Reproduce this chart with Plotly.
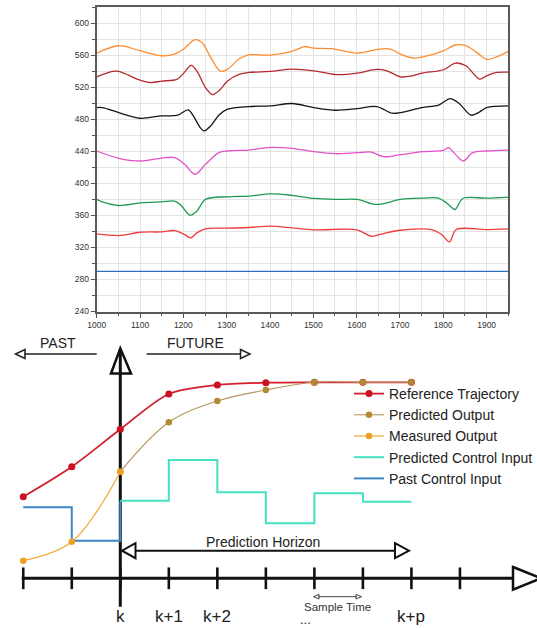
import plotly.graph_objects as go

FONT = "Liberation Sans, Arial, Helvetica, sans-serif"

# ---------------- Top chart data (time series) ----------------
x_orange = [1000, 1051, 1100, 1150, 1180, 1201, 1227, 1243, 1263, 1286, 1302, 1330, 1351, 1401, 1451,
            1480, 1501, 1543, 1601, 1652, 1678, 1701, 1731, 1773, 1801, 1828, 1852, 1880, 1900, 1923, 1950]
y_orange = [562.8, 572, 565.8, 559.5, 561.6, 568, 579.5, 576, 557.4, 540, 542.7, 556, 560.7, 560.3, 565,
            571, 569, 568.3, 562.8, 567.8, 567.8, 561.6, 556.6, 560.7, 565.8, 572.9, 572, 562.4, 555, 558, 565]

x_darkred = [1000, 1037, 1051, 1100, 1124, 1150, 1185, 1199, 1218, 1231, 1251, 1267, 1282, 1302, 1330, 1351,
             1401, 1451, 1501, 1551, 1601, 1646, 1670, 1701, 1725, 1751, 1801, 1828, 1852, 1884, 1900, 1923, 1950]
y_darkred = [533.2, 539.9, 540, 529, 526, 527.8, 530, 536.5, 547.4, 540.6, 519.8, 511, 515.6, 528, 536.5, 538.6,
             540, 542.8, 540.7, 536, 537.8, 542.4, 540.7, 533.2, 534, 537.8, 542, 550.3, 547, 530.3, 534.4, 538.6, 539]

x_black = [1000, 1013, 1051, 1100, 1150, 1187, 1211, 1223, 1239, 1248, 1263, 1282, 1302, 1351, 1401, 1451,
           1501, 1551, 1601, 1646, 1682, 1701, 1751, 1789, 1816, 1836, 1864, 1884, 1900, 1950]
y_black = [494.8, 494.8, 488.5, 481.4, 484.3, 485.2, 491.9, 484.3, 469.7, 465.6, 471.8, 485.2, 492.7, 496, 496.9, 499.8,
           494.8, 491.4, 493.5, 496, 487.7, 488.5, 494.8, 497.7, 506, 500.2, 485.2, 489.3, 494.8, 496.9]

x_magenta = [1000, 1051, 1100, 1150, 1180, 1203, 1227, 1251, 1282, 1302, 1351, 1401, 1451, 1501, 1551, 1601,
             1634, 1662, 1701, 1751, 1801, 1812, 1828, 1846, 1868, 1900, 1950]
y_magenta = [440.5, 431.3, 428, 431.7, 432.2, 423.8, 411.3, 423.8, 438.4, 440.5, 441.7, 445, 443.8, 439.6, 437.1, 438.4,
             439.2, 433.4, 435.9, 439.6, 441.3, 444.6, 436.3, 428, 438.4, 440.5, 441.7]

x_green = [1000, 1013, 1051, 1100, 1150, 1180, 1195, 1215, 1231, 1251, 1302, 1351, 1401, 1451, 1501, 1551,
           1601, 1646, 1701, 1751, 1789, 1809, 1827, 1845, 1900, 1950]
y_green = [380, 377, 372.4, 375.7, 377, 377.9, 372.4, 360.3, 365.3, 380, 383.3, 384.1, 387, 385, 381.2, 380,
           380, 373.7, 380, 381.6, 381.6, 375, 367.4, 381.2, 381.6, 382.9]

x_red = [1000, 1051, 1100, 1150, 1180, 1203, 1217, 1231, 1251, 1302, 1351, 1401, 1451, 1501, 1601, 1634,
         1662, 1701, 1773, 1796, 1814, 1830, 1900, 1950]
y_red = [336.9, 334.9, 339, 339.5, 341.1, 336.1, 331.9, 338.2, 343.2, 344.1, 344.9, 346.6, 344.5, 342, 342, 334,
         337.4, 341.5, 342.4, 336.1, 327, 342.4, 342.4, 343.2]

x_blue = [1000, 1950]
y_blue = [290, 290]

top_colors = ["#ff8c2e", "#b5282e", "#151515", "#e352c8", "#1d9a52", "#f03c3c", "#2f6fc0"]

# ---------------- Bottom diagram data (MPC scheme) ----------------
steps = [-2, -1, 0, 1, 2, 3, 4, 5, 6, 7]            # sample instants on time axis
step_label_t = [0, 1, 2, 6]
step_labels = ["k", "k+1", "k+2", "k+p"]

ref_t = [-2, -1, 0, 1, 2, 3, 4, 5, 6]
ref_v = [81.6, 111.6, 149, 184.3, 193.3, 195.6, 196, 196, 196]

pred_t = [0, 1, 2, 3, 4, 5, 6]
pred_v = [106.6, 156, 177.3, 188.3, 196, 196, 196]

meas_t = [-2, -1, 0]
meas_v = [17.6, 36.6, 106.6]

pred_u_t = [0, 1, 2, 3, 4, 5, 6]
pred_u_v = [77.6, 118.3, 86, 55, 85, 76.6, 76.6]

past_u_t = [-2, -1, 0, 0]
past_u_v = [71, 37.6, 37.6, 77.6]

legend_names = ["Reference Trajectory", "Predicted Output", "Measured Output",
                "Predicted Control Input", "Past Control Input"]


# pixel -> diagram coordinate helpers (layout only)
def T(px):
    return (px - 120.3) / 48.52


def V(py):
    return 578.3 - py


fig = go.Figure()

# top chart traces
for xs, ys, c in zip([x_orange, x_darkred, x_black, x_magenta, x_green, x_red, x_blue],
                     [y_orange, y_darkred, y_black, y_magenta, y_green, y_red, y_blue], top_colors):
    fig.add_trace(go.Scatter(x=xs, y=ys, mode="lines", xaxis="x", yaxis="y",
                             line=dict(color=c, width=1.3, shape="spline", smoothing=0.9),
                             showlegend=False, hoverinfo="skip"))

# bottom diagram traces
fig.add_trace(go.Scatter(x=steps, y=[0] * len(steps), mode="markers", xaxis="x2", yaxis="y2",
                         marker=dict(symbol="line-ns", size=15.5, line=dict(width=2.6, color="#111")),
                         showlegend=False, hoverinfo="skip", cliponaxis=False))

fig.add_trace(go.Scatter(x=past_u_t, y=past_u_v, mode="lines", xaxis="x2", yaxis="y2",
                         name=legend_names[4], legendrank=5,
                         line=dict(color="#3f86c8", width=2, shape="hv")))
fig.add_trace(go.Scatter(x=pred_u_t, y=pred_u_v, mode="lines", xaxis="x2", yaxis="y2",
                         name=legend_names[3], legendrank=4,
                         line=dict(color="#44e2c2", width=2, shape="hv")))
fig.add_trace(go.Scatter(x=ref_t, y=ref_v, mode="lines+markers", xaxis="x2", yaxis="y2",
                         name=legend_names[0], legendrank=1,
                         line=dict(color="#d21f2c", width=1.8, shape="spline", smoothing=0.8),
                         marker=dict(color="#cc1020", size=7)))
fig.add_trace(go.Scatter(x=pred_t, y=pred_v, mode="lines+markers", xaxis="x2", yaxis="y2",
                         name=legend_names[1], legendrank=2,
                         line=dict(color="#b5955a", width=1.1, shape="spline", smoothing=1.0),
                         marker=dict(color="#b38a34", size=6.5)))
fig.add_trace(go.Scatter(x=meas_t, y=meas_v, mode="lines+markers", xaxis="x2", yaxis="y2",
                         name=legend_names[2], legendrank=3,
                         line=dict(color="#f2a832", width=1.2, shape="spline", smoothing=1.0),
                         marker=dict(color="#f0a020", size=6.5)))

# ---------------- shapes for the diagram ----------------
shapes = []
BLK = "#111"


def line(x0, y0, x1, y1, w, c=BLK):
    shapes.append(dict(type="line", xref="x2", yref="y2", x0=x0, y0=y0, x1=x1, y1=y1,
                       line=dict(color=c, width=w), layer="below"))


def tri(pts, w, c=BLK):
    p = "M {},{} L {},{} L {},{} Z".format(*[v for pt in pts for v in pt])
    shapes.append(dict(type="path", xref="x2", yref="y2", path=p,
                       line=dict(color=c, width=w), fillcolor="rgba(0,0,0,0)", layer="below"))


# time axis with open arrowhead
line(T(21.7), 0, T(513), 0, 3)
tri([(T(513), V(567)), (T(541), 0), (T(513), V(589.6))], 2.5)
# vertical "now" axis at k
line(0, V(606.7), 0, V(349), 3)
tri([(T(111), V(373.5)), (0, V(348.3)), (T(131), V(373.5))], 2.5)
# PAST / FUTURE arrows
line(T(96.7), V(354), T(24.5), V(354), 1.5, "#222")
tri([(T(25), V(349.5)), (T(15.5), V(354)), (T(25), V(358.5))], 1.5, "#222")
line(T(146.7), V(354), T(241), V(354), 1.5, "#222")
tri([(T(240.5), V(349.5)), (T(250), V(354)), (T(240.5), V(358.5))], 1.5, "#222")
# prediction horizon double arrow
line(T(135), V(550.7), T(395), V(550.7), 2, "#111")
tri([(T(135.5), V(543.2)), (T(122), V(550.7)), (T(135.5), V(558.2))], 2, "#111")
tri([(T(395), V(543.2)), (T(409), V(550.7)), (T(395), V(558.2))], 2, "#111")
# sample time small arrow
line(T(318), V(596.7), T(357), V(596.7), 1, "#444")
tri([(T(319), V(594.4)), (T(313.5), V(596.7)), (T(319), V(599))], 1, "#444")
tri([(T(356), V(594.4)), (T(361.5), V(596.7)), (T(356), V(599))], 1, "#444")

# ---------------- annotations ----------------
ann = []


def text(x, y, s, size, color="#222"):
    ann.append(dict(xref="x2", yref="y2", x=x, y=y, text=s, showarrow=False,
                    font=dict(family=FONT, size=size, color=color), xanchor="center", yanchor="middle"))


text(T(58.3), V(343.3), "PAST", 14)
text(T(195), V(343.3), "FUTURE", 14)
text(T(263.3), V(541.7), "Prediction Horizon", 14)
text(T(337.7), V(606.7), "Sample Time", 11.5, "#333")
for t, s in zip(step_label_t, step_labels):
    text(t, V(616.5), s, 17)
text(T(305), V(619), "...", 13)

axis_common = dict(showline=True, linecolor="#5a5a5a", linewidth=2, mirror=True,
                   ticks="outside", ticklen=4, tickwidth=1, tickcolor="#555",
                   showgrid=True, gridcolor="#e4e4e4", gridwidth=1, zeroline=False,
                   tickfont=dict(family=FONT, size=8.5, color="#333"))

fig.update_layout(
    width=537, height=628,
    margin=dict(l=0, r=0, t=0, b=0, autoexpand=False),
    paper_bgcolor="white", plot_bgcolor="white",
    font=dict(family=FONT, color="#222"),
    xaxis=dict(domain=[96.7 / 537, 508.3 / 537], range=[1000, 1950], tick0=1000, dtick=100, anchor="y",
               minor=dict(dtick=50, showgrid=True, gridcolor="#e4e4e4", ticks="outside", ticklen=2.5,
                          tickcolor="#555"),
               **axis_common),
    yaxis=dict(domain=[(628 - 311.5) / 628, (628 - 7.3) / 628], range=[240, 620], tick0=240, dtick=40,
               anchor="x",
               minor=dict(dtick=20, showgrid=True, gridcolor="#e4e4e4", ticks="outside", ticklen=2.5,
                          tickcolor="#555"),
               **axis_common),
    xaxis2=dict(domain=[0, 1], range=[T(0), T(537)], visible=False, anchor="y2"),
    yaxis2=dict(domain=[0, 298 / 628], range=[V(628), V(330)], visible=False, anchor="x2"),
    legend=dict(xref="container", yref="container", x=349 / 537, y=1 - 378 / 628,
                xanchor="left", yanchor="top", bgcolor="rgba(0,0,0,0)",
                font=dict(family=FONT, size=14, color="#222"), tracegroupgap=0),
    shapes=shapes,
    annotations=ann,
)

fig.write_html("out.html")
